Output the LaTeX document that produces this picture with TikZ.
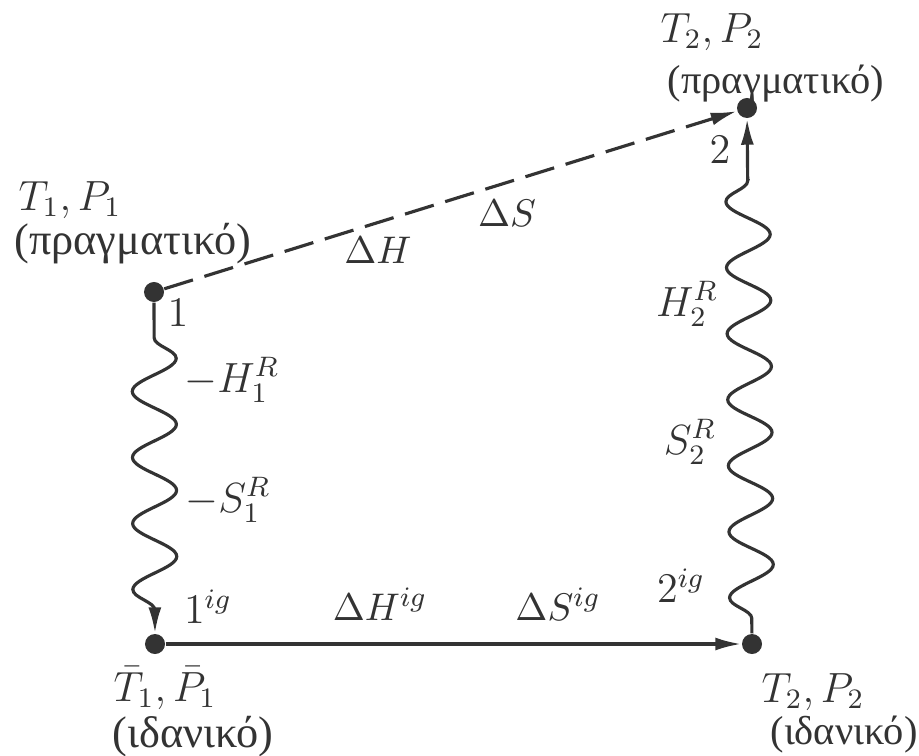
\documentclass[tikz,border=0pt]{standalone}
\usepackage{fontspec}
\newfontfamily\grfont[Script=Greek]{Liberation Serif}
\usetikzlibrary{arrows.meta,decorations.pathmorphing}
\definecolor{ink}{HTML}{333333}
\begin{document}
\begin{tikzpicture}[x=0.01cm,y=-0.01cm,
    font=\fontsize{12}{14}\selectfont,
    dot/.style={circle, fill=ink, inner sep=0pt, minimum size=0.2cm},
    lbl/.style={inner sep=0pt, text=ink},
    grk/.style={lbl, font=\fontsize{12.6}{14}\selectfont\grfont},
    grksmall/.style={lbl, font=\fontsize{11.5}{13}\selectfont\grfont},
    dlbl/.style={lbl, font=\fontsize{11}{13}\selectfont},
    tip/.style={-{Latex[length=0.26cm,width=0.13cm]}},
    wavy/.style={tip, decorate, decoration={snake, segment length=0.66cm, amplitude=0.22cm}}]
  \useasboundingbox (0,0) rectangle (919,755);

  \node[dot] (p1) at (154,292) {};
  \node[dot] (p2) at (747,108) {};
  \node[dot] (p1ig) at (155,644) {};
  \node[dot] (p2ig) at (752,644) {};

  \draw[ink, line width=0.9pt, dash pattern=on 0.3cm off 0.12cm, tip] (p1) -- (p2);
  \draw[ink, line width=0.9pt, tip] (p1ig) -- (p2ig);
  \draw[ink, line width=0.9pt, wavy, decoration={pre length=0.35cm, post length=0.23cm}] (p1) -- (p1ig);
  \draw[ink, line width=0.9pt, wavy, decoration={pre length=0.15cm, post length=0.4cm}] (p2ig) -- (p2);

  % states
  \node[lbl] (s1) at (70,200) {$T_1, P_1$};
  \node[grk] (s1g) at (133,244) {(πραγματικό)};
  \node[lbl] (s2) at (712,32) {$T_2, P_2$};
  \node[grksmall] (s2g) at (776,84) {(πραγματικό)};
  \node[lbl] (s3) at (165,688) {$\bar{T}_1, \bar{P}_1$};
  \node[grk] (s3g) at (193,737) {(ιδανικό)};
  \node[lbl] (s4) at (813,692) {$T_2, P_2$};
  \node[grksmall] (s4g) at (844,735) {(ιδανικό)};

  % path labels
  \node[lbl] (n1) at (178,313) {$1$};
  \node[lbl] (n2) at (720,150) {$2$};
  \node[dlbl] (dh) at (378,250) {$\Delta H$};
  \node[dlbl] (ds) at (507,213) {$\Delta S$};
  \node[lbl] (h1) at (232,380) {$-H_1^R$};
  \node[lbl] (sr1) at (228,500) {$-S_1^R$};
  \node[lbl] (h2) at (687,304) {$H_2^R$};
  \node[lbl] (sr2) at (690,442) {$S_2^R$};
  \node[lbl] (n1ig) at (208,607) {$1^{ig}$};
  \node[dlbl] (dhig) at (380,604) {$\Delta H^{ig}$};
  \node[dlbl] (dsig) at (558,604) {$\Delta S^{ig}$};
  \node[lbl] (n2ig) at (681,586) {$2^{ig}$};
\end{tikzpicture}
\end{document}
